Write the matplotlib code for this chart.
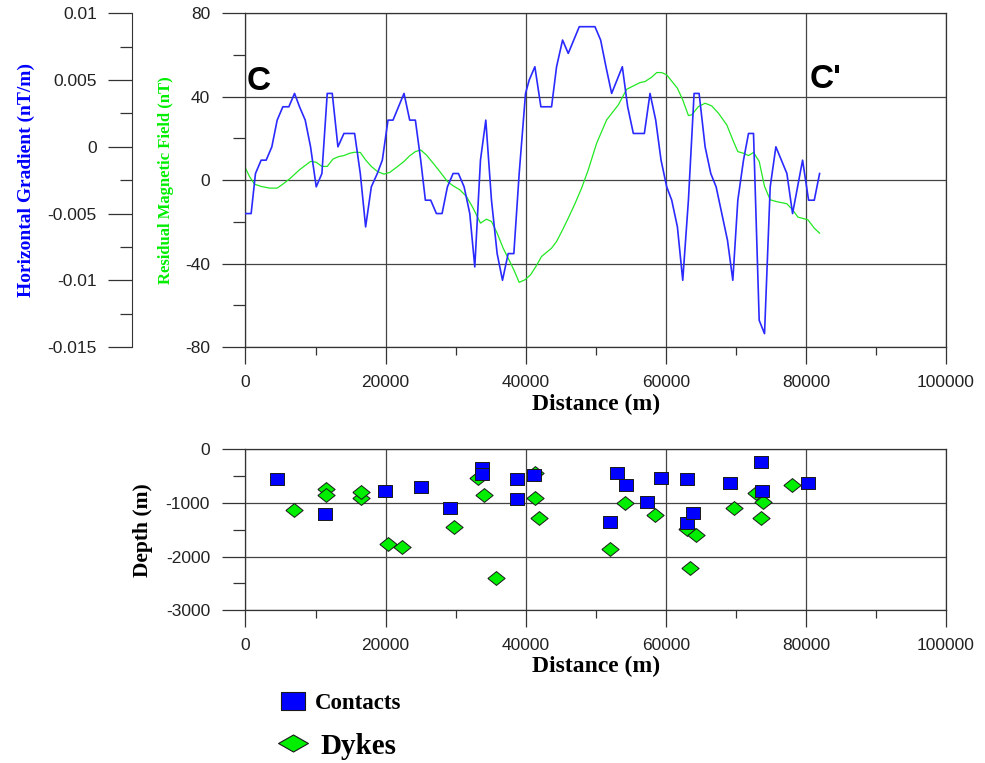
import numpy as np
import matplotlib
matplotlib.use("Agg")
import matplotlib.pyplot as plt
from matplotlib.lines import Line2D
from matplotlib.ticker import MultipleLocator, FuncFormatter

plt.rcParams['font.family'] = 'Liberation Sans'
plt.rcParams['axes.unicode_minus'] = False

# horizontal gradient along the profile (nT/m), blue curve
hg_dist = [0, 810, 1430, 2240, 2955, 3765, 4527, 5337, 6195, 7005,
           7720, 8530, 9292, 10102, 10912, 11674, 12389, 13199, 14057, 15582,
           16392, 17154, 17964, 18822, 19537, 20347, 21062, 22634, 23444, 24254,
           25016, 25683, 26446, 27256, 28066, 28828, 29638, 30401, 31211, 32021,
           32736, 33546, 34308, 35118, 35928, 36690, 37500, 38310, 39073, 39978,
           40502, 41313, 42170, 43695, 44410, 45268, 46078, 47650, 49890, 50700,
           51462, 52272, 53797, 54559, 55369, 56941, 57752, 58562, 59324, 60134,
           60849, 61659, 62421, 63231, 64041, 64756, 65614, 66424, 67187, 67997,
           68807, 69569, 70284, 71094, 71809, 72524, 73334, 74096, 74906, 75716,
           77288, 78098, 79528, 80385, 81196, 81958]
hg_val = [-0.005, -0.005, -0.002, -0.001, -0.001, 0.0, 0.002, 0.003, 0.003, 0.004,
          0.003, 0.002, 0.0, -0.003, -0.002, 0.004, 0.004, 0.0, 0.001, 0.001,
          -0.002, -0.006, -0.003, -0.002, -0.001, 0.002, 0.002, 0.004, 0.002, 0.002,
          -0.001, -0.004, -0.004, -0.005, -0.005, -0.003, -0.002, -0.002, -0.003, -0.005,
          -0.009, -0.001, 0.002, -0.004, -0.008, -0.010, -0.008, -0.008, -0.002, 0.004,
          0.005, 0.006, 0.003, 0.003, 0.006, 0.008, 0.007, 0.009, 0.009, 0.008,
          0.006, 0.004, 0.006, 0.003, 0.001, 0.001, 0.004, 0.002, -0.001, -0.003,
          -0.004, -0.006, -0.010, -0.004, 0.004, 0.004, 0.0, -0.002, -0.003, -0.005,
          -0.007, -0.010, -0.004, -0.001, 0.001, 0.001, -0.013, -0.014, -0.003, 0.0,
          -0.002, -0.005, -0.001, -0.004, -0.004, -0.002]

# residual magnetic field (nT), green curve
rmf_dist = [0, 572, 1287, 2240, 3431, 4527, 5337, 6290, 7720, 9292,
            10102, 10912, 11674, 12484, 13294, 14057, 14867, 15582, 16392, 17154,
            17964, 18822, 19775, 20585, 21538, 22634, 23444, 24254, 25016, 25826,
            26779, 27732, 28828, 29638, 30591, 31544, 32497, 33546, 34403, 35118,
            35928, 36786, 37500, 38310, 39073, 39883, 40693, 41456, 42266, 43695,
            44410, 45268, 46078, 47031, 47984, 48937, 50128, 51557, 53225, 54416,
            56322, 57037, 57990, 58705, 59420, 60134, 61659, 62421, 63231, 63708,
            64661, 65614, 66567, 67520, 68712, 69569, 70284, 71094, 71809, 72524,
            73334, 74096, 74906, 75716, 77288, 78098, 78861, 80290, 81196, 81958]
rmf_val = [5.8, 1.8, -1.9, -3.0, -3.8, -3.8, -1.9, 0.6, 5.0, 9.0,
           8.6, 6.6, 6.6, 10.1, 11.3, 11.8, 12.9, 13.4, 13.3, 9.7,
           6.6, 4.2, 2.9, 3.7, 6.1, 9.0, 11.7, 13.7, 14.5, 12.1,
           8.2, 4.2, -0.6, -2.7, -4.6, -7.8, -13.4, -20.6, -18.7, -19.8,
           -25.4, -32.6, -37.4, -43.0, -49.0, -47.8, -45.4, -41.4, -36.6, -32.6,
           -29.4, -23.8, -18.2, -11.3, -3.8, 5.0, 17.7, 28.9, 36.1, 43.6,
           46.8, 47.3, 49.4, 51.6, 51.6, 50.5, 44.1, 38.5, 31.0, 31.3,
           35.3, 36.9, 35.6, 32.1, 26.5, 19.3, 13.7, 12.9, 11.8, 13.3,
           9.0, -3.0, -9.4, -10.2, -11.3, -14.2, -17.7, -19.0, -23.0, -25.4]

# depth solutions
contact_dist = [4513, 11400, 19950, 25080, 29213, 33725, 33725, 38808, 38808, 41183,
                52048, 53095, 54286, 57381, 59286, 63095, 63095, 63952, 69143, 73571,
                73714, 80238]
contact_depth = [-553, -1211, -770, -708, -1087, -342, -460, -553, -925, -478,
                 -1348, -447, -664, -987, -528, -559, -1366, -1192, -633, -242,
                 -770, -633]
dyke_dist = [6888, 11543, 11543, 16530, 16530, 20330, 22325, 29830, 33250, 34058,
             35768, 41325, 41325, 41895, 52048, 54143, 58429, 63095, 63429, 64286,
             69762, 72857, 73571, 73905, 78000]
dyke_depth = [-1130, -745, -851, -913, -801, -1770, -1826, -1441, -540, -851,
              -2403, -447, -913, -1285, -1857, -994, -1223, -1490, -2205, -1596,
              -1087, -820, -1273, -987, -664]

serif_bold = dict(family='Liberation Serif', weight='bold')
dark = '#333333'
fmt = FuncFormatter(lambda v, p: '{:g}'.format(v))

# slightly flattened markers, like the original
rect_m = [(-1, -0.78), (1, -0.78), (1, 0.78), (-1, 0.78), (-1, -0.78)]
diam_m = [(-1, 0), (0, 0.8), (1, 0), (0, -0.8), (-1, 0)]
rect_leg = [(-1, -0.75), (1, -0.75), (1, 0.75), (-1, 0.75), (-1, -0.75)]
diam_leg = [(-1, 0), (0, 0.57), (1, 0), (0, -0.57), (-1, 0)]


def style_axes(a):
    for s in a.spines.values():
        s.set_color(dark)
        s.set_linewidth(0.9)
    a.tick_params(which='both', direction='out', color=dark, labelcolor='#222222',
                  labelsize=12.5, width=0.9)
    a.tick_params(axis='x', which='major', length=12, pad=8)
    a.tick_params(axis='x', which='minor', length=6)
    a.tick_params(axis='y', which='major', length=16.5, pad=9)
    a.tick_params(axis='y', which='minor', length=8.5)
    a.set_xlim(0, 100000)
    a.xaxis.set_major_locator(MultipleLocator(20000))
    a.xaxis.set_minor_locator(MultipleLocator(10000))
    a.xaxis.set_major_formatter(fmt)
    a.grid(True, which='major', color='#444444', lw=0.9)
    a.set_axisbelow(True)


fig = plt.figure(figsize=(9.85, 7.63), dpi=100)

# top panel: profiles
ax = fig.add_axes([0.2492, 0.5452, 0.7112, 0.4373])
style_axes(ax)
ax.plot(rmf_dist, rmf_val, color='#22e822', lw=0.9)
ax.set_ylim(-80, 80)
ax.yaxis.set_major_locator(MultipleLocator(40))
ax.yaxis.set_minor_locator(MultipleLocator(20))
ax.set_ylabel('Residual Magnetic Field (nT)', color='#00ee00', fontsize=12, **serif_bold)
ax.yaxis.set_label_coords(-0.102, 0.5)
ax.set_xlabel('Distance (m)', fontsize=17, **serif_bold)
ax.xaxis.set_label_coords(0.5, -0.139)
ax.text(200, 47.5, 'C', fontsize=24, fontweight='bold', va='center', ha='left')
ax.text(80590, 48.5, "C'", fontsize=24, fontweight='bold', va='center', ha='left')

ax2 = ax.twinx()
ax2.plot(hg_dist, hg_val, color='#2a2aff', lw=1.2)
ax2.set_ylim(-0.015, 0.01)
for side in ['right', 'top', 'bottom']:
    ax2.spines[side].set_visible(False)
ax2.spines['left'].set_visible(True)
ax2.spines['left'].set_position(('outward', 82))
ax2.spines['left'].set_color(dark)
ax2.yaxis.set_ticks_position('left')
ax2.yaxis.set_label_position('left')
ax2.yaxis.set_major_locator(MultipleLocator(0.005))
ax2.yaxis.set_minor_locator(MultipleLocator(0.0025))
ax2.yaxis.set_major_formatter(fmt)
ax2.tick_params(which='both', direction='out', color=dark, labelcolor='#222222',
                labelsize=12.5, width=0.9)
ax2.tick_params(which='major', length=17, pad=8)
ax2.tick_params(which='minor', length=9)
ax2.set_ylabel('Horizontal Gradient (nT/m)', color='blue', fontsize=14, **serif_bold)
ax2.yaxis.set_label_coords(-0.300, 0.5)

# bottom panel: depth solutions
axb = fig.add_axes([0.2492, 0.2001, 0.7112, 0.2110])
style_axes(axb)
axb.scatter(dyke_dist, dyke_depth, marker=diam_m, s=155, c='#00ee00',
            edgecolors='#1a1a1a', linewidths=0.7, zorder=3)
axb.scatter(contact_dist, contact_depth, marker=rect_m, s=105, c='#0000ff',
            edgecolors='#1a1a1a', linewidths=0.7, zorder=4)
axb.set_ylim(-3000, 0)
axb.yaxis.set_major_locator(MultipleLocator(1000))
axb.yaxis.set_minor_locator(MultipleLocator(500))
axb.yaxis.set_major_formatter(fmt)
axb.set_ylabel('Depth (m)', fontsize=15.5, **serif_bold)
axb.yaxis.set_label_coords(-0.132, 0.5)
axb.set_xlabel('Distance (m)', fontsize=17, **serif_bold)
axb.xaxis.set_label_coords(0.5, -0.284)

# legend, two separate entries with different text sizes
h_contacts = Line2D([], [], ls='none', marker=rect_leg, ms=17.5, mfc='#0000ff',
                    mec='#1a1a1a', mew=0.8)
h_dykes = Line2D([], [], ls='none', marker=diam_leg, ms=21.5, mfc='#00ee00',
                 mec='#1a1a1a', mew=0.8)
fig.legend([h_contacts], ['Contacts'], loc='center left',
           bbox_to_anchor=(278 / 985, 1 - 703 / 763), frameon=False,
           borderpad=0, borderaxespad=0, handlelength=1.3, handletextpad=0.33,
           prop=dict(family='Liberation Serif', weight='bold', size=16.5))
fig.legend([h_dykes], ['Dykes'], loc='center left',
           bbox_to_anchor=(278 / 985, 1 - 746 / 763), frameon=False,
           borderpad=0, borderaxespad=0, handlelength=1.03, handletextpad=0.43,
           prop=dict(family='Liberation Serif', weight='bold', size=21))

fig.savefig('out.png', dpi=100)
